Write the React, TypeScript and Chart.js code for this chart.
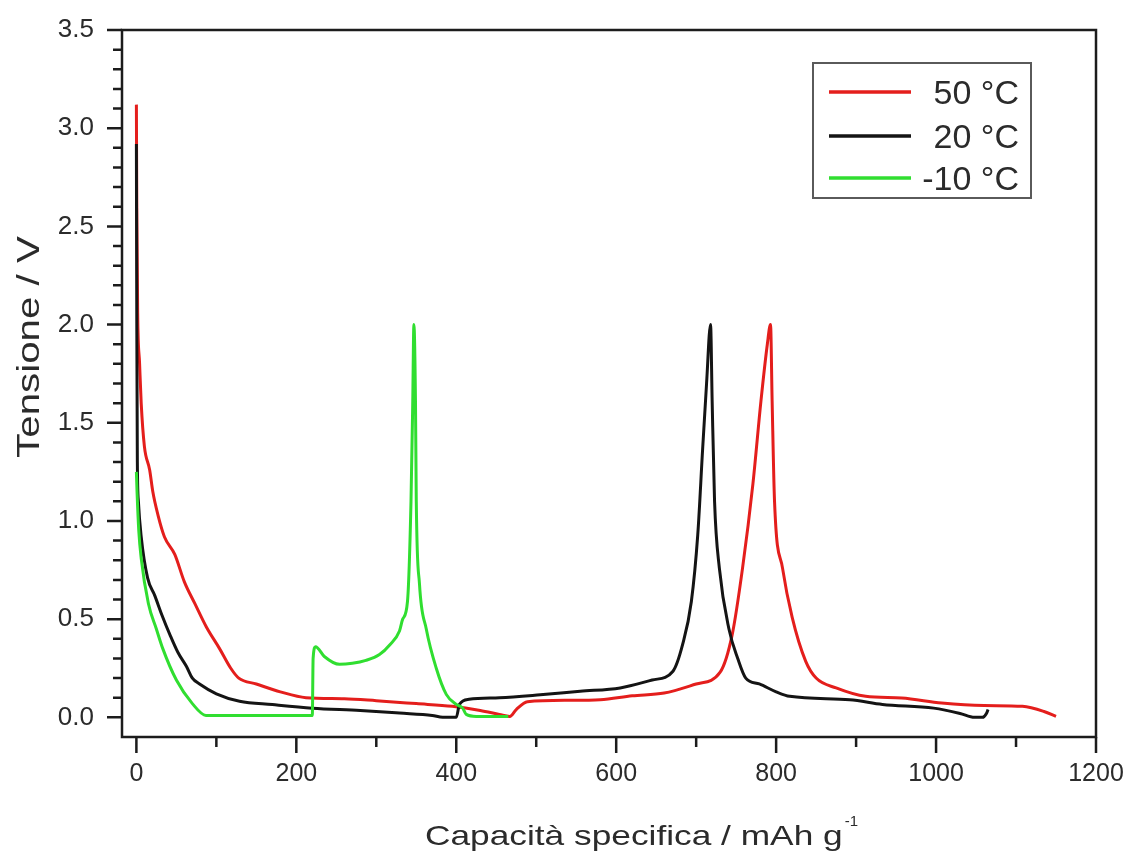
import React, { useEffect, useRef } from "react";
import { Chart, registerables } from "chart.js";

Chart.register(...registerables);

// ---- data ----
const seriesLabels = ["50 °C", "20 °C", "-10 °C"];
const seriesColors = ["rgb(228,30,28)", "#141414", "rgb(48,222,48)"];

const cap50 = [0, 0.5, 1.6, 4, 6, 10, 16.6, 20.5, 27, 35, 48, 60, 73, 87.5, 104, 118, 128, 150, 180, 212, 260, 300, 350, 395, 430, 454, 467, 475, 489, 540, 580, 620, 660, 700, 730, 745, 758, 771, 781, 789, 793, 795, 798, 808, 820, 837, 850, 875, 912, 957, 1007, 1060, 1108, 1135, 1150];
const volt50 = [3.12, 2.6, 2.06, 1.8, 1.6, 1.38, 1.26, 1.15, 1.03, 0.92, 0.83, 0.69, 0.58, 0.46, 0.35, 0.25, 0.2, 0.17, 0.13, 0.1, 0.095, 0.085, 0.07, 0.056, 0.035, 0.015, 0.005, 0.04, 0.08, 0.087, 0.09, 0.11, 0.124, 0.17, 0.23, 0.42, 0.76, 1.19, 1.61, 1.9, 2.0, 1.61, 1.1, 0.76, 0.51, 0.285, 0.2, 0.15, 0.107, 0.098, 0.073, 0.06, 0.056, 0.03, 0.005];

const cap20 = [0, 0.5, 1.2, 2.5, 6, 14, 23, 32, 42, 52, 62.5, 70, 79, 100, 129, 170, 220, 280, 329, 370, 383, 400, 404, 416, 454, 505, 555, 605, 645, 671, 683, 694, 702, 708, 713, 718, 720, 723, 729, 741, 752, 762, 779, 800, 817, 892, 933, 997, 1030, 1048, 1058, 1063, 1065];
const volt20 = [2.92, 2.0, 1.3, 1.1, 0.92, 0.71, 0.62, 0.52, 0.42, 0.33, 0.26, 0.2, 0.17, 0.12, 0.082, 0.065, 0.047, 0.035, 0.022, 0.01, 0.0, 0.0, 0.066, 0.092, 0.1, 0.115, 0.133, 0.15, 0.19, 0.235, 0.37, 0.59, 0.93, 1.36, 1.7, 2.0, 1.61, 1.1, 0.76, 0.45, 0.3, 0.2, 0.17, 0.13, 0.107, 0.09, 0.066, 0.047, 0.02, 0.0, 0.0, 0.02, 0.04];

const capM10 = [0, 0.8, 3, 6, 15, 25, 33, 50, 70, 87, 220, 221, 224, 235, 254, 270, 287, 304, 317, 329, 333, 339, 343.4, 345.6, 347, 349, 350, 354, 362.5, 375, 387.5, 400, 408, 412.5, 425, 465];
const voltM10 = [1.25, 1.15, 0.95, 0.81, 0.58, 0.45, 0.35, 0.19, 0.07, 0.01, 0.01, 0.3, 0.36, 0.31, 0.27, 0.275, 0.29, 0.32, 0.37, 0.44, 0.5, 0.59, 1.1, 1.61, 2.0, 1.61, 1.1, 0.68, 0.45, 0.25, 0.117, 0.066, 0.047, 0.015, 0.005, 0.005];

const xTicks = [0, 200, 400, 600, 800, 1000, 1200];
const xMinorTicks = [100, 300, 500, 700, 900, 1100];
const yTicks = [0, 0.5, 1.0, 1.5, 2.0, 2.5, 3.0, 3.5];
const yMinorTicks = [0.1, 0.2, 0.3, 0.4, 0.6, 0.7, 0.8, 0.9, 1.1, 1.2, 1.3, 1.4, 1.6, 1.7, 1.8, 1.9, 2.1, 2.2, 2.3, 2.4, 2.6, 2.7, 2.8, 2.9, 3.1, 3.2, 3.3, 3.4];

const xTitle = "Capacità specifica / mAh g";
const xTitleSup = "-1";
const yTitle = "Tensione / V";

const FONT = "'Liberation Sans', Arial, Helvetica, sans-serif";
const TEXT = "#2b2b2b";

const pairs = (xs: number[], ys: number[]) => xs.map((x, i) => ({ x, y: ys[i] }));

const framePlugin = {
  id: "frameAndTicks",
  afterDraw(chart: any) {
    const { ctx, chartArea, scales } = chart;
    const { left, right, top, bottom } = chartArea;
    ctx.save();
    ctx.strokeStyle = "#1c1c1c";
    ctx.lineWidth = 2.5;
    ctx.strokeRect(left, top, right - left, bottom - top);
    ctx.lineWidth = 2.5;
    ctx.beginPath();
    for (const v of yTicks) {
      const p = scales.y.getPixelForValue(v);
      ctx.moveTo(left - 15, p);
      ctx.lineTo(left, p);
    }
    for (const v of yMinorTicks) {
      const p = scales.y.getPixelForValue(v);
      ctx.moveTo(left - 9, p);
      ctx.lineTo(left, p);
    }
    for (const v of xTicks) {
      const p = scales.x.getPixelForValue(v);
      ctx.moveTo(p, bottom);
      ctx.lineTo(p, bottom + 16);
    }
    for (const v of xMinorTicks) {
      const p = scales.x.getPixelForValue(v);
      ctx.moveTo(p, bottom);
      ctx.lineTo(p, bottom + 10);
    }
    ctx.stroke();

    // axis titles
    ctx.fillStyle = TEXT;
    ctx.textBaseline = "alphabetic";
    ctx.save();
    ctx.font = `28px ${FONT}`;
    const xw = ctx.measureText(xTitle).width * 1.26;
    const xStart = 425;
    ctx.translate(xStart, 845);
    ctx.scale(1.26, 1);
    ctx.textAlign = "left";
    ctx.fillText(xTitle, 0, 0);
    ctx.restore();
    ctx.save();
    ctx.font = `15px ${FONT}`;
    ctx.textAlign = "left";
    ctx.fillText(xTitleSup, xStart + xw + 2, 826);
    ctx.restore();
    ctx.save();
    ctx.font = `31px ${FONT}`;
    ctx.translate(39, 347);
    ctx.rotate(-Math.PI / 2);
    ctx.scale(1.3, 1);
    ctx.textAlign = "center";
    ctx.fillText(yTitle, 0, 0);
    ctx.restore();

    // legend
    const bx = 813, by = 63, bw = 218, bh = 135;
    ctx.fillStyle = "#ffffff";
    ctx.fillRect(bx, by, bw, bh);
    ctx.strokeStyle = "#5a5a5a";
    ctx.lineWidth = 2;
    ctx.strokeRect(bx, by, bw, bh);
    const rows = [92, 136, 178];
    chart.data.datasets.forEach((ds: any, i: number) => {
      const yy = rows[i];
      ctx.strokeStyle = ds.borderColor;
      ctx.lineWidth = 3.5;
      ctx.beginPath();
      ctx.moveTo(829, yy);
      ctx.lineTo(911, yy);
      ctx.stroke();
      ctx.fillStyle = TEXT;
      ctx.font = `34px ${FONT}`;
      ctx.textAlign = "right";
      ctx.textBaseline = "alphabetic";
      ctx.fillText(ds.label, 1019, yy + 12);
    });
    ctx.restore();
  },
};

export default function App() {
  const ref = useRef<HTMLCanvasElement | null>(null);
  useEffect(() => {
    if (!ref.current) return;
    const chart = new Chart(ref.current, {
      type: "line",
      data: {
        datasets: [
          { label: seriesLabels[0], data: pairs(cap50, volt50), borderColor: seriesColors[0], order: 2 },
          { label: seriesLabels[1], data: pairs(cap20, volt20), borderColor: seriesColors[1], order: 1 },
          { label: seriesLabels[2], data: pairs(capM10, voltM10), borderColor: seriesColors[2], order: 0 },
        ].map((d) => ({
          ...d,
          borderWidth: 3,
          pointRadius: 0,
          fill: false,
          cubicInterpolationMode: "monotone",
          backgroundColor: d.borderColor,
        })),
      },
      options: {
        responsive: false,
        animation: false,
        devicePixelRatio: 1,
        layout: { padding: { top: 30, right: 35, left: 0, bottom: 0 } },
        plugins: { legend: { display: false }, tooltip: { enabled: false }, title: { display: false } },
        scales: {
          x: {
            type: "linear",
            min: -18,
            max: 1200,
            grid: { display: false, drawTicks: false },
            border: { display: false },
            afterBuildTicks: (s: any) => { s.ticks = xTicks.map((v) => ({ value: v })); },
            afterFit: (s: any) => {
              s.height = 115;
              s.paddingLeft = 0; s.paddingRight = 0; s.paddingTop = 0; s.paddingBottom = 0;
            },
            ticks: {
              padding: 22,
              color: TEXT,
              font: { family: FONT, size: 25 },
              maxRotation: 0,
              autoSkip: false,
              callback: (v: any) => String(v),
            },
          },
          y: {
            type: "linear",
            min: -0.1,
            max: 3.5,
            grid: { display: false, drawTicks: false },
            border: { display: false },
            afterBuildTicks: (s: any) => { s.ticks = yTicks.map((v) => ({ value: v })); },
            afterFit: (s: any) => {
              s.width = 122;
              s.paddingLeft = 0; s.paddingRight = 0; s.paddingTop = 0; s.paddingBottom = 0;
            },
            ticks: {
              padding: 28,
              color: TEXT,
              font: { family: FONT, size: 26 },
              autoSkip: false,
              callback: (v: any) => Number(v).toFixed(1),
            },
          },
        },
      },
      plugins: [framePlugin],
    } as any);
    return () => chart.destroy();
  }, []);
  return (
    <div style={{ position: "absolute", left: 0, top: 0, width: 1131, height: 852, background: "#fff" }}>
      <canvas ref={ref} width={1131} height={852} style={{ display: "block", width: 1131, height: 852 }} />
    </div>
  );
}
